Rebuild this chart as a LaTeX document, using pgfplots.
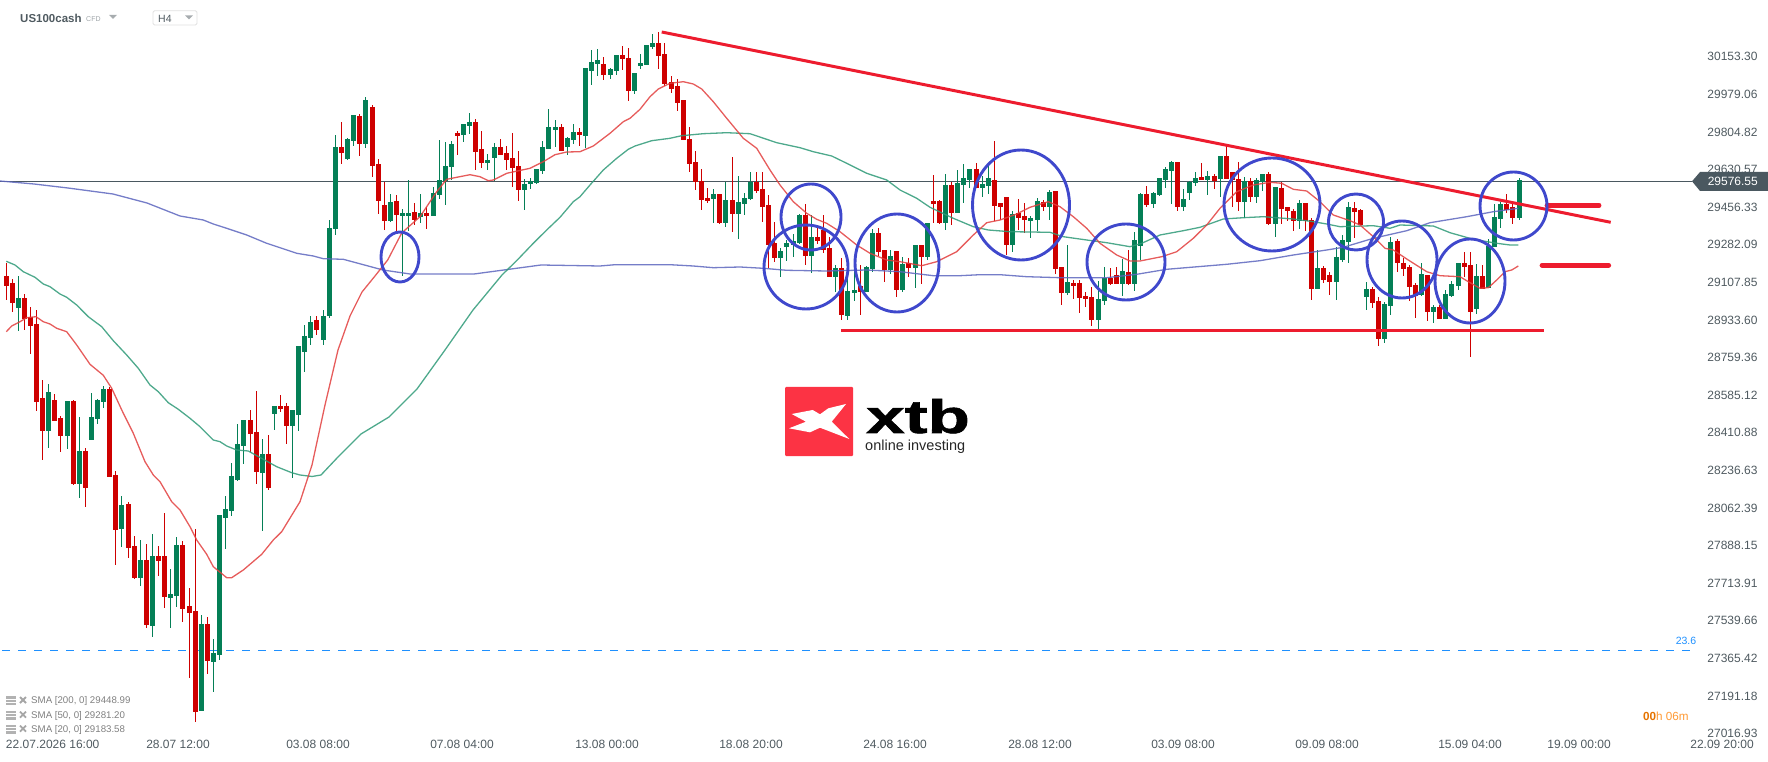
\documentclass[border=0pt]{standalone}
\usepackage{fontspec}
\setmainfont{Liberation Sans}
\newfontfamily\xtbfont[BoldFeatures={FakeBold=1.2}]{Liberation Sans}
\usepackage{pgfplots}
\usepackage{pgfplotstable}
\pgfplotsset{compat=1.18}
\definecolor{upc}{HTML}{047F56}
\definecolor{dnc}{HTML}{CE0000}
\definecolor{sma20}{HTML}{E2403F}
\definecolor{sma50}{HTML}{2F9A78}
\definecolor{sma200}{HTML}{5D66BE}
\definecolor{ring}{HTML}{3F48CC}
\definecolor{trend}{HTML}{ED1C2E}
\definecolor{pline}{HTML}{4A5860}
\definecolor{lab}{HTML}{4F5A60}
\definecolor{fib}{HTML}{1E90FF}
\definecolor{logored}{HTML}{FC3344}
% columns: pixel column of the candle, then pixel rows: high, low, body top, body bottom
\pgfplotstableread{
px h l t b
18.3 276 331 298 308
48.3 384 448 392 431
67.3 401 449 401 436
79.3 417 498 451 484
91.3 393 440 417 440
97.3 399 424 400 419
103.3 386 408 389 402
121.3 496 547 505 529
140.3 540 586 560 578
152.3 534 637 556 626
170.3 569 628 594 598
176.3 537 607 545 596
201.3 615 711 624 711
213.3 639 692 653 662
219.3 515 660 515 655
225.3 496 549 509 518
231.3 463 516 476 511
237.3 424 481 444 480
243.3 420 464 420 446
262.3 439 531 454 473
274.3 406 430 406 414
292.3 410 478 410 426
298.3 346 431 346 415
304.3 325 372 336 352
310.3 316 345 322 338
323.3 310 345 316 340
329.3 220 318 228 316
335.3 135 235 147 229
347.3 138 160 139 159
353.3 115 146 115 141
365.3 97 148 100 144
390.3 194 222 202 221
402.3 209 276 213 216
408.3 180 231 213 216
420.3 194 223 213 217
433.3 187 216 193 216
439.3 140 199 180 195
445.3 142 205 166 181
451.3 141 180 144 167
463.3 124 142 124 135
469.3 113 134 122 126
487.3 154 170 160 163
494.3 143 181 147 158
524.3 179 210 184 190
530.3 178 189 181 184
536.3 169 184 169 183
542.3 141 174 147 171
548.3 109 149 127 149
555.3 120 147 127 130
567.3 137 155 138 147
573.3 124 144 132 140
585.3 68 148 68 136
591.3 50 85 62 71
597.3 49 76 60 64
610.3 68 79 69 75
616.3 55 75 55 71
634.3 73 94 73 91
640.3 54 69 63 66
646.3 45 65 45 65
652.3 34 49 43 47
713.3 189 223 194 199
725.3 182 227 200 223
738.3 176 239 202 214
744.3 193 215 198 204
750.3 172 200 182 199
780.3 248 277 251 258
786.3 240 261 243 247
793.3 234 257 241 245
799.3 214 244 215 243
811.3 215 273 237 256
835.3 265 292 268 277
847.3 266 320 291 316
854.3 270 301 290 293
866.3 266 292 267 292
872.3 229 272 233 269
890.3 250 274 256 270
902.3 257 292 264 290
915.3 245 288 245 268
927.3 223 260 223 257
945.3 174 230 185 223
957.3 170 213 183 213
963.3 164 203 178 185
969.3 169 188 169 180
982.3 176 197 184 188
988.3 166 194 178 186
1012.3 211 252 214 245
1030.3 216 238 218 221
1037.3 198 231 201 220
1049.3 190 220 192 207
1067.3 245 295 282 293
1098.3 281 329 299 320
1104.3 267 305 278 301
1122.3 259 296 271 284
1134.3 232 291 240 284
1140.3 193 260 194 246
1153.3 192 208 193 204
1159.3 178 196 178 195
1165.3 167 188 169 180
1171.3 161 204 162 171
1183.3 189 211 199 207
1189.3 181 200 182 193
1195.3 172 186 178 183
1207.3 171 195 176 180
1220.3 156 197 156 179
1244.3 177 218 181 202
1256.3 178 203 180 197
1262.3 174 191 174 182
1275.3 187 237 187 224
1299.3 200 229 203 221
1317.3 250 289 268 289
1336.3 247 300 257 282
1342.3 235 262 240 260
1348.3 202 263 207 242
1366.3 282 310 289 297
1384.3 302 343 304 339
1390.3 237 315 242 306
1421.3 263 296 274 295
1433.3 305 323 307 312
1445.3 290 319 294 319
1451.3 281 297 284 296
1458.3 263 290 263 286
1476.3 264 314 276 309
1488.3 239 288 246 288
1494.3 204 247 217 247
1500.3 202 228 204 219
1519.3 178 220 180 218
}\greentab
\pgfplotstableread{
px h l t b
6.3 262.7 300 276 285.7
12.3 279 312 283 302.7
24.3 294 330 298 319
30.3 307.3 354 317 326
36.3 310 411 324 402
42.3 380 460 398 431
54.3 394 421 400 421
60.3 416 452 418 436
73.3 400 485 401 484
85.3 448 507 451 488
109.3 387 477 389 477
115.3 471 565 475 530
128.3 502 558 504 548
134.3 536 579 546 578
146.3 544 628 560 625
158.3 546 576 556 561
164.3 513 608 556 597
182.3 541 622 545 609
189.3 588 678 606 613
195.3 529 722 611 712
207.3 617 674 624 661
250.3 410 452 420 434
256.3 391 484 432 472
268.3 435 490 454 488
280.3 395 412 406 409
286.3 403 444 406 426
316.3 316 335 320 330
341.3 122 164 147 153
359.3 114 156 116 144
372.3 105 177 107 166
378.3 159 214 164 201
384.3 182 230 205 221
396.3 195 233 201 215
414.3 203 225 212 220
426.3 207 229 213 216
457.3 131 155 133 136
475.3 119 170 122 152
481.3 131 168 149 163
500.3 139 155 147 155
506.3 146 170 153 160
512.3 133 187 158 168
518.3 151 201 166 190
561.3 124 151 127 151
579.3 128 146 132 135
603.3 57 80 64 75
622.3 46 70 55 59
628.3 48 101 58 91
658.3 32 69 43 56
664.3 43 86 54 84
671.3 76 93 82 89
677.3 79 111 86 103
683.3 100 140 100 140
689.3 127 172 139 164
695.3 151 190 162 182
701.3 169 210 181 200
707.3 188 203 198 201
719.3 194 224 194 223
732.3 157 232 200 214
756.3 172 193 182 191
762.3 172 222 189 207
768.3 195 268 205 245
774.3 222 262 243 258
805.3 204 265 215 256
817.3 228 244 237 241
823.3 215 253 230 250
829.3 237 277 248 277
841.3 258 320 268 315
860.3 265 315 286 292
878.3 228 256 233 252
884.3 250 282 250 270
896.3 251 297 251 290
908.3 258 277 263 268
921.3 245 284 245 257
933.3 175 223 201 204
939.3 200 224 201 223
951.3 182 225 185 213
976.3 163 188 169 188
994.3 141 221 180 206
1000.3 203 220 203 207
1006.3 197 255 197 245
1018.3 199 230 213 218
1024.3 203 233 216 220
1043.3 200 211 202 207
1055.3 191 274 191 269
1061.3 267 305 267 293
1073.3 280 299 283 286
1079.3 280 313 283 298
1085.3 292 307 296 299
1091.3 287 326 297 320
1110.3 268 285 278 284
1116.3 267 284 275 284
1128.3 250 285 272 284
1146.3 186 207 194 205
1177.3 162 211 162 207
1201.3 163 180 177 180
1214.3 174 189 176 181
1226.3 146 179 156 179
1232.3 172 207 172 180
1238.3 162 211 179 202
1250.3 178 202 181 197
1268.3 172 225 174 224
1281.3 182 224 188 209
1287.3 207 221 207 211
1293.3 209 231 211 221
1305.3 203 231 203 221
1311.3 218 300 220 289
1323.3 266 283 268 280
1329.3 272 295 275 282
1354.3 202 238 208 212
1360.3 209 225 210 225
1372.3 287 308 289 303
1378.3 297 346 301 339
1397.3 239 272 241 263
1403.3 258 276 263 269
1409.3 265 301 267 287
1415.3 283 318 285 296
1427.3 275 321 275 312
1439.3 305 319 307 319
1464.3 252 277 263 267
1470.3 252 357 265 312
1482.3 265 289 276 289
1506.3 194 213 204 210
1512.3 204 224 207 218
}\redtab
\pgfplotstableread{
px r
6.3 331.7
11.7 326
20 321.7
26.7 317.7
36 316.7
43.3 321.7
50 324
56.7 328.3
66.7 331.7
76.7 345
90 364.3
103.3 375.3
111.7 388.3
123.3 413.3
133.3 433.3
145 461.7
153.3 475
160 481.7
171.7 501.7
180 510
190 526.7
196.7 540
206.7 554.3
213.3 566.7
226.7 577.7
231.7 577.7
243.3 570
261.7 554.3
273.3 540
281.7 531.7
300 501.7
312 465
325 405
338 350
350 316
362 292
375 276
387.7 260
401.7 233
420 216.7
436.7 191.7
446.7 179.3
456.7 177.3
470 174.7
480 176.7
488.3 180.7
493.3 180
506.7 173.3
530 168.3
543.3 161.7
555 154.7
566.7 152
580 151.7
593.3 146
610 133.3
623.3 121.7
630 118.3
640 109.3
650 96.7
658.3 89
670 83.3
683.3 81.7
693.3 84
701.7 89
713.3 101.7
726.7 118.3
743.3 138.3
756.7 148.3
770 170
780 185
793.3 201.7
806.7 213.3
816.7 219.3
826.7 223.3
840 231.7
856.7 245
870 253.3
886.7 260
900 261.7
921.7 265.7
936.7 261.7
956.7 251.7
973.3 235
986.7 222.7
1000 220
1016.7 214
1030 207.3
1048.3 201.7
1060 206.7
1073.3 216.7
1086.7 228.3
1100 243.3
1116.7 255
1130 261
1140 261
1161.7 256.7
1176.7 251.7
1193.3 238.3
1206.7 225
1220 208.3
1236.7 191.7
1253.3 185
1270 182.3
1281.7 183.3
1293.3 189.3
1306.7 191
1320 201.7
1333.3 215
1350 220.7
1360 225
1373.3 236.7
1385 248.3
1393.3 250
1406.7 259
1426.7 271.7
1440 275.7
1460 276.7
1468.3 281.7
1480 288.3
1488.3 287.7
1496.7 280
1505 271.7
1511.7 270
1518.3 266
}\smatwenty
\pgfplotstableread{
px r
6.3 261.3
15 265
23.3 271.7
35 277.3
43.3 284
50 286.7
60 294
66.7 297.3
76.7 305
88.3 316.7
101.7 326.7
113.3 340.7
126.7 355
138.3 368.3
150 385
158.3 391.7
168.3 402.7
178.3 409.3
190 418.3
200 426.7
213.3 440
220 441.7
226.7 446
236.7 450
248.3 451
263.3 459.3
276.7 466.7
291.7 472.7
300 475
312 476.5
321 475
338 457
361 434
389 417
417 389
445 350
473 310
502 275
517.3 260
533.3 243.3
546.7 230
560 217.3
573.3 201.7
580 196.7
590 185
603.3 170
616.7 158.3
628.3 149.3
635 146
651.7 140.7
670 138.3
681.7 135.7
703.3 133.7
726.7 132.7
750 133.7
776.7 142.7
800 147.7
813.3 151.7
831.7 156
846.7 163.3
866.7 173.3
886.7 180
900 190
916.7 198.3
930 207.3
953.3 218.3
973.3 226.7
988.3 230
1010 231.7
1050 232.3
1063.3 236.7
1086.7 240
1106.7 242.7
1130 246.7
1141.7 243.3
1160 235
1183.3 230.7
1200 227.3
1223.3 219
1243.3 217.7
1263.3 216.7
1293.3 219
1313.3 221.7
1326.7 224
1340 226.7
1373.3 225.7
1390 228.3
1400 225
1433.3 226
1450 232.7
1473.3 239.3
1496.7 243.3
1510 245
1518.3 245
}\smafifty
\pgfplotstableread{
px r
0 181
34 184
68 188
113 194
147 203
180 216
203.3 220
213.3 224
226.7 228.3
246.7 235
266.7 243.3
280 247.7
296.7 253.3
313.3 256
323.3 258.7
343.3 259.3
383 270
410 274
440 274
474 274
541 265
600 266
615 264.7
670 264.7
693.3 266
713.3 267.7
740 267
763.3 268.3
786.7 270.3
826.7 271
866.7 270
900 271.7
933.3 275.7
960 275.7
980 274.7
1000 274.7
1026.7 276.7
1060 277.7
1106.7 277.7
1136.7 274.3
1166.7 269.3
1226.7 264.3
1260 260.7
1293.3 255
1326.7 250
1343.3 247.3
1373.3 238.3
1406.7 230.7
1430 222.7
1466.7 216.7
1493.3 211.7
1518.3 208.3
}\smatwohundred
\newcommand{\candles}[2]{%
\addplot[draw=none,mark=none,forget plot,error bars/.cd,y dir=plus,y explicit,error mark=none,error bar style={line width=1.2pt,draw=#2}]
 table[x=px,y expr=29576.55+(181.3-\thisrow{l})*4.635,y error plus expr=(\thisrow{l}-\thisrow{h})*4.635]{#1};
\addplot[draw=none,mark=none,forget plot,error bars/.cd,y dir=plus,y explicit,error mark=none,error bar style={line width=5pt,draw=#2}]
 table[x=px,y expr=29576.55+(181.3-\thisrow{b})*4.635,y error plus expr=(\thisrow{b}-\thisrow{t})*4.635]{#1};
}
\newcommand{\smaline}[2]{%
\addplot[#2,line width=1.3pt,opacity=.85,mark=none,forget plot] table[x=px,y expr=29576.55+(181.3-\thisrow{r})*4.635]{#1};
}
\begin{document}
\begin{tikzpicture}
\begin{axis}[
  at={(0pt,0pt)},anchor=south west,
  scale only axis,width=1768pt,height=761pt,
  xmin=0,xmax=1768,ymin=26889.6,ymax=30416.9,
  axis line style={draw=none},tick style={draw=none},
  major tick length=0pt,
  scaled y ticks=false,
  xtick={52.7,178,318,462,607,751,895,1040,1183,1327,1470,1579,1722},
  xticklabels={22.07.2026 16:00,28.07 12:00,03.08 08:00,07.08 04:00,13.08 00:00,18.08 20:00,24.08 16:00,28.08 12:00,03.09 08:00,09.09 08:00,15.09 04:00,19.09 00:00,22.09 20:00},
  xticklabel style={anchor=center,yshift=17pt,font=\fontsize{12}{12}\selectfont,text=lab},
  yticklabel pos=right,
  ytick={30153.30,29979.06,29804.82,29630.57,29456.33,29282.09,29107.85,28933.60,28759.36,28585.12,28410.88,28236.63,28062.39,27888.15,27713.91,27539.66,27365.42,27191.18,27016.93},
  yticklabels={30153.30,29979.06,29804.82,29630.57,29456.33,29282.09,29107.85,28933.60,28759.36,28585.12,28410.88,28236.63,28062.39,27888.15,27713.91,27539.66,27365.42,27191.18,27016.93},
  yticklabel style={anchor=east,xshift=-7pt,font=\fontsize{12}{12}\selectfont,text=lab},
]
\addplot[pline,line width=1.3pt,mark=none,forget plot] coordinates {(0,29576.55)(1692,29576.55)};
\addplot[fib,line width=1.2pt,mark=none,forget plot,dash pattern=on 8pt off 8pt] coordinates {(2,27402.7)(1697,27402.7)};
\candles{\greentab}{upc}
\candles{\redtab}{dnc}
\smaline{\smatwohundred}{sma200}
\smaline{\smafifty}{sma50}
\smaline{\smatwenty}{sma20}
\end{axis}
\begin{scope}[x=1pt,y=-1pt,shift={(0pt,761pt)}]
% trend lines and hand-drawn marks
\draw[trend,line width=3pt] (661.7,32) -- (1610.7,222.3);
\draw[trend,line width=3pt] (841,330.3) -- (1543.7,330.3);
\draw[trend,line width=4.8pt,line cap=round] (1547,205.3) -- (1599,205.3);
\draw[trend,line width=4.8pt,line cap=round] (1542,265.3) -- (1608.7,265.3);
\foreach \cx/\cy/\rx/\ry in {400/257/19/25,811/217/30/33,806/267/42/42,897/263/42/49,1021/205/48.5/55,1126/262/39/38,1272/204.5/48/46.5,1356/222/27.5/28,1402/259.5/35/38.5,1470/281/35/42,1513.5/206/33.5/34}
  \draw[ring,line width=2.9pt] (\cx,\cy) ellipse [x radius=\rx pt,y radius=\ry pt];
% current price tag
\fill[pline] (1692,181.3) -- (1700,172) -- (1768,172) -- (1768,191) -- (1700,191) -- cycle;
\node[text=white,anchor=east,inner sep=0pt,font=\fontsize{12}{12}\selectfont] at (1758,181.5) {29576.55};
% header
\node[anchor=west,inner sep=0pt,text=lab,font=\bfseries\fontsize{11.5}{12}\selectfont] at (20,18.7) {US100cash};
\node[anchor=west,inner sep=0pt,text=lab!55,font=\fontsize{7}{7}\selectfont] at (86,19.5) {CFD};
\fill[lab!50] (109,15) -- (117,15) -- (113,19) -- cycle;
\draw[black!12,rounded corners=1.5pt,line width=.8pt] (153,10.7) rectangle (197,25);
\node[anchor=west,inner sep=0pt,text=lab,font=\fontsize{10.5}{10}\selectfont] at (158,19) {H4};
\fill[lab!50] (185,15.5) -- (193,15.5) -- (189,19.5) -- cycle;
% SMA legend
\foreach \yy/\tt in {701/{SMA [200, 0] 29448.99},715.7/{SMA [50, 0] 29281.20},729.7/{SMA [20, 0] 29183.58}}{
  \fill[black!30] (6,\yy-5) rectangle (16,\yy+4);
  \draw[white,line width=.6pt] (6,\yy-2) -- (16,\yy-2) (6,\yy+1) -- (16,\yy+1);
  \draw[black!35,line width=1.8pt] (20,\yy-4) -- (26,\yy+2) (26,\yy-4) -- (20,\yy+2);
  \node[anchor=west,inner sep=0pt,text=black!50,font=\fontsize{9.7}{10}\selectfont] at (31,\yy) {\tt};
}
% fib label and timer
\node[text=fib,font=\fontsize{10.5}{10}\selectfont] at (1686,641) {23.6};
\node[anchor=west,inner sep=0pt,font=\fontsize{11.7}{12}\selectfont] at (1643,716) {\textcolor{orange!90!black}{\textbf{00}}\textcolor{orange!80!white}{h 06m}};
% logo
\fill[logored,rounded corners=1pt] (785,387) rectangle (853,456);
\fill[white] (791.7,414) -- (812.7,410) -- (820,414.3) -- (828.3,408.3) -- (846,404) -- (831.7,421.7) -- (849.3,439) -- (820,427.7) -- (810,432.3) -- (789,428.3) -- (806,421.7) -- cycle;
\node[anchor=base west,inner sep=0pt,black,font=\xtbfont\bfseries\fontsize{47}{47}\selectfont] at (866,433) {\scalebox{1.47}[1]{xtb}};
\node[anchor=base west,inner sep=0pt,text=black!85,font=\fontsize{14.5}{14}\selectfont] at (865,450) {online investing};
\end{scope}
\end{tikzpicture}
\end{document}
